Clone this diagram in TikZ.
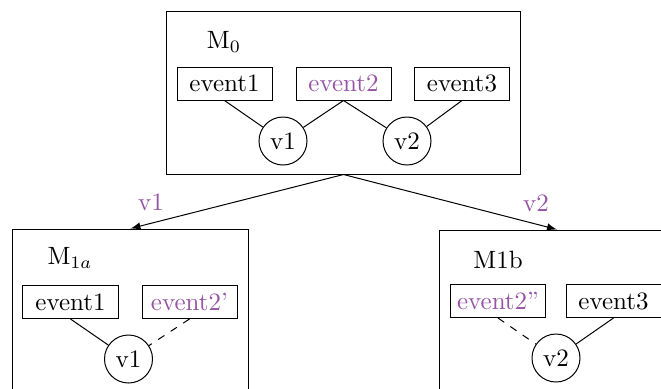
\documentclass[tikz,border=0pt]{standalone}
\usetikzlibrary{arrows}
\definecolor{hl}{RGB}{150,84,165}
\begin{document}
\begin{tikzpicture}[x=0.4pt,y=-0.4pt,
  frame/.style={draw, inner sep=0pt, minimum height=65.2pt},
  evbox/.style={draw, inner sep=0pt, minimum width=38pt, minimum height=13.2pt},
  var/.style={draw, circle, inner sep=0pt, minimum size=19.2pt},
  lbl/.style={text=hl, inner sep=0pt}]
\useasboundingbox (0,0) rectangle (661,388);
\clip (0,0) rectangle (661,388);

% root model
\node[frame, minimum width=141.2pt] (m0) at (343.5,92.5) {};
\node (t0) at (224,42) {M$_0$};
\node[evbox] (a1) at (224.5,83.5) {event1};
\node[evbox, text=hl] (a2) at (343.5,83.5) {event2};
\node[evbox] (a3) at (462,83.5) {event3};
\node[var] (av1) at (283,141) {v1};
\node[var] (av2) at (407,141) {v2};
\draw (a1.south) -- (av1);
\draw (a2.south) -- (av1);
\draw (a2.south) -- (av2);
\draw (a3.south) -- (av2);

% branch on v1
\node[frame, minimum width=94pt] (m1a) at (130.5,310.5) {};
\node (t1) at (70,258) {M$_{1a}$};
\node[evbox] (b1) at (70.5,302) {event1};
\node[evbox, text=hl] (b2) at (189.5,302) {event2'};
\node[var] (bv1) at (128.5,359) {v1};
\draw (b1.south) -- (bv1);
\draw[dashed] (b2.south) -- (bv1);

% branch on v2
\node[frame, minimum width=94pt] (m1b) at (557,311.5) {};
\node (t2) at (498,260) {M1b};
\node[evbox, text=hl] (c2) at (498,301) {event2''};
\node[evbox] (c3) at (613.5,301) {event3};
\node[var] (cv2) at (556,358) {v2};
\draw[dashed] (c2.south) -- (cv2);
\draw (c3.south) -- (cv2);

% branching arrows
\draw[-latex] (m0.south) -- (m1a.north);
\draw[-latex] (m0.south) -- (m1b.north);
\node[lbl] (l1) at (151,202) {v1};
\node[lbl] (l2) at (536,203) {v2};
\end{tikzpicture}
\end{document}
